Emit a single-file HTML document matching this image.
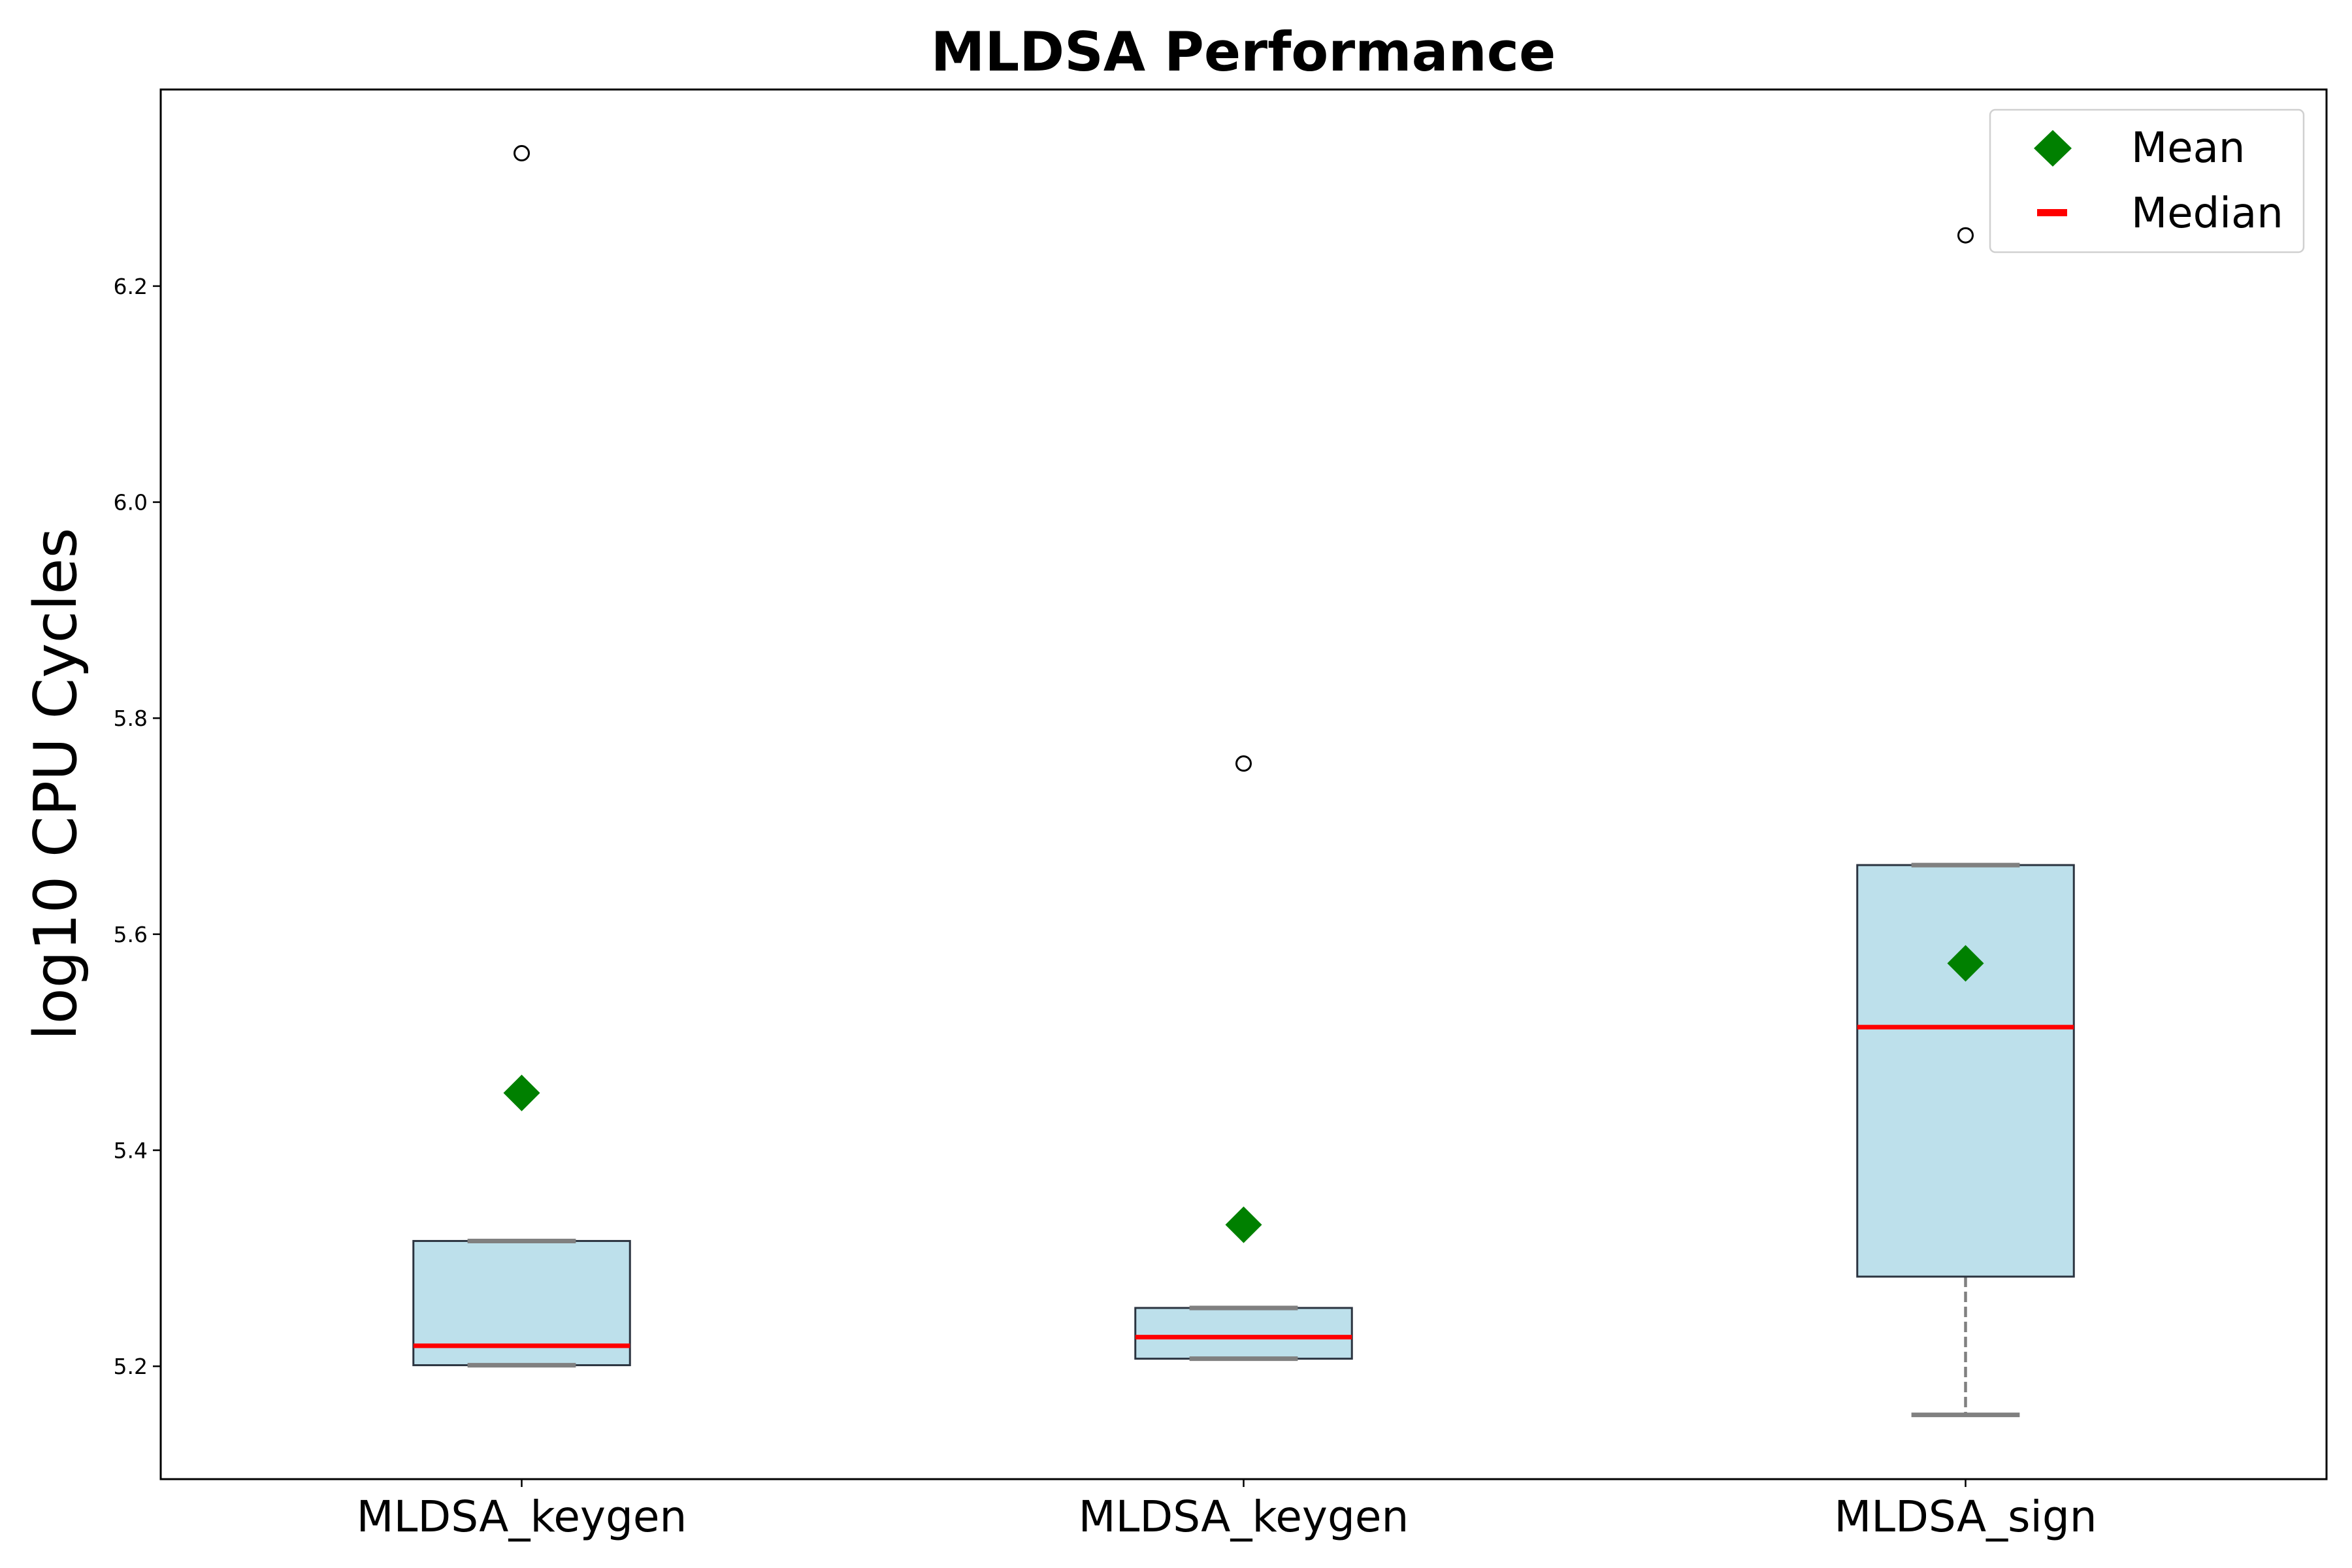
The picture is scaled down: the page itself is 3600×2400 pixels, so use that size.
<!DOCTYPE html>
<html><head><meta charset="utf-8"><style>
html,body{margin:0;padding:0;background:#fff;}
svg{display:block;font-family:"DejaVu Sans","Liberation Sans",sans-serif;}
</style></head><body>
<svg id="chart" width="3600" height="2400" viewBox="0 0 3600 2400" xmlns="http://www.w3.org/2000/svg">
<rect width="3600" height="2400" fill="#fff"/>
<text x="1903" y="108" font-size="83" font-weight="bold" text-anchor="middle">MLDSA Performance</text>
<text transform="translate(116,1200) rotate(-90)" font-size="90" text-anchor="middle">log10 CPU Cycles</text>
<g id="plot"></g>
<rect x="246" y="137" width="3315" height="2127" fill="none" stroke="#000" stroke-width="3"/>
<g>
<rect x="3046" y="168" width="480" height="218" rx="8" fill="#fff" stroke="#ccc" stroke-width="2.5" opacity="0.9"/>
<polygon points="3142,199 3171,227 3142,255 3113,227" fill="#008000"/>
<text x="3262" y="248" font-size="64">Mean</text>
<rect x="3118" y="320" width="46" height="11" fill="#ff0000"/>
<text x="3262" y="348" font-size="64">Median</text>
</g>
</svg>
<script>
const categories = ["MLDSA_keygen", "MLDSA_keygen", "MLDSA_sign"];
const q1 = [5.201, 5.207, 5.283];
const q3 = [5.316, 5.254, 5.664];
const medians = [5.219, 5.227, 5.514];
const means = [5.453, 5.331, 5.573];
const whiskerLow = [5.201, 5.207, 5.155];
const whiskerHigh = [5.316, 5.254, 5.664];
const outliers = [[6.323], [5.758], [6.247]];
const yTicks = [5.2, 5.4, 5.6, 5.8, 6.0, 6.2];

const L = 246, R = 3561, T = 137, B = 2264;
const yMin = 5.0955, yMax = 6.382;
const xMin = -0.5, xMax = 2.5;
const sx = v => L + (v - xMin) / (xMax - xMin) * (R - L);
const sy = v => B - (v - yMin) / (yMax - yMin) * (B - T);
const NS = "http://www.w3.org/2000/svg";
const g = document.getElementById('plot');
function mk(tag, attrs, parent) {
  const e = document.createElementNS(NS, tag);
  for (const k in attrs) e.setAttribute(k, attrs[k]);
  (parent || g).appendChild(e);
  return e;
}
yTicks.forEach(t => {
  const y = sy(t);
  const tk = mk('line', {x1: L - 12, x2: L, y1: y, y2: y, stroke: '#000', 'stroke-width': 2.5});
  
  
  const tx = mk('text', {x: L - 20, y: y + 12, 'font-size': 33, 'text-anchor': 'end'});
  tx.textContent = t.toFixed(1);
  
  
});
const bw = 0.3, cw = 0.15;
categories.forEach((c, i) => {
  const cx = sx(i);
  const tk = mk('line', {x1: cx, x2: cx, y1: B, y2: B + 12, stroke: '#000', 'stroke-width': 2.5});
  
  
  const tx = mk('text', {x: cx, y: B + 80, 'font-size': 66, 'text-anchor': 'middle'});
  tx.textContent = c;
  
  
  const x0 = sx(i - bw / 2), x1 = sx(i + bw / 2);
  const c0 = sx(i - cw / 2), c1 = sx(i + cw / 2);
  if (whiskerLow[i] < q1[i]) {
    const w = mk('line', {x1: cx, x2: cx, y1: sy(q1[i]), y2: sy(whiskerLow[i]), stroke: '#808080', 'stroke-width': 4.5, 'stroke-dasharray': '16,7'});
    
    
  }
  if (whiskerHigh[i] > q3[i]) {
    const w = mk('line', {x1: cx, x2: cx, y1: sy(q3[i]), y2: sy(whiskerHigh[i]), stroke: '#808080', 'stroke-width': 4.5, 'stroke-dasharray': '16,7'});
    
    
  }
  const box = mk('rect', {x: x0, y: sy(q3[i]), width: x1 - x0, height: sy(q1[i]) - sy(q3[i]), fill: '#add8e6', 'fill-opacity': 0.8, stroke: '#2b3440', 'stroke-width': 3});
  
  
  [whiskerLow[i], whiskerHigh[i]].forEach(v => {
    const cap = mk('line', {x1: c0, x2: c1, y1: sy(v), y2: sy(v), stroke: '#808080', 'stroke-width': 7});
    
    
  });
  const med = mk('line', {x1: x0, x2: x1, y1: sy(medians[i]), y2: sy(medians[i]), stroke: '#ff0000', 'stroke-width': 7});
  
  
  const my = sy(means[i]);
  const mn = mk('polygon', {points: `${cx},${my - 28} ${cx + 28},${my} ${cx},${my + 28} ${cx - 28},${my}`, fill: '#008000'});
  
  
  outliers[i].forEach(v => {
    const o = mk('circle', {cx: cx, cy: sy(v), r: 11, fill: 'none', stroke: '#000', 'stroke-width': 3});
    
    
  });
});
</script>
</body></html>
